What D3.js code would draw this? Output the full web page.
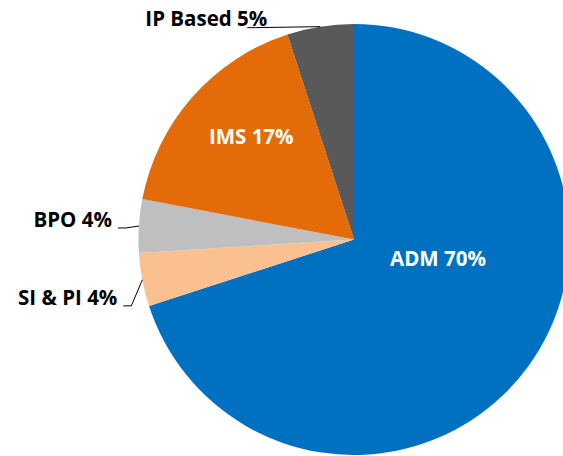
<!DOCTYPE html>
<html>
<head>
<meta charset="utf-8">
<script src="https://cdn.jsdelivr.net/npm/d3@7"></script>
<style>
  body { margin: 0; background: #fff; }
  svg { display: block; font-family: "Open Sans", "DejaVu Sans", sans-serif; }
</style>
</head>
<body>
<div id="chart"></div>
<script>
const categories = ['ADM', 'SI & PI', 'BPO', 'IMS', 'IP Based'];
const shares = [70, 4, 4, 17, 5];
const colors = ['#0070C0', '#FAC090', '#BFBFBF', '#E36C09', '#595959'];

const width = 563;
const height = 456;
const cx = 354;
const cy = 239.5;
const radius = 215.5;

const data = categories.map((name, i) => ({ name, value: shares[i], color: colors[i] }));

const pie = d3.pie()
  .value(d => d.value)
  .sort(null);

const arc = d3.arc()
  .innerRadius(0)
  .outerRadius(radius);

// label placement, tweaked by eye against the original
const labelStyle = {
  'ADM': { inside: true, r: 0, dx: 84, dy: 26 },
  'IMS': { inside: true, r: 145, dx: 6, dy: 0 },
  'IP Based': { inside: false, elbow: [-65, 1], text: [-53, -1] },
  'BPO': { inside: false, elbow: [-13, 2], text: [-27, 1] },
  'SI & PI': { inside: false, elbow: [-11, 26], text: [-25, 25] }
};

const svg = d3.select('#chart').append('svg')
  .attr('width', width)
  .attr('height', height);

const g = svg.append('g')
  .attr('transform', `translate(${cx}, ${cy})`);

const arcs = pie(data);

g.selectAll('path.slice')
  .data(arcs)
  .enter().append('path')
  .attr('class', 'slice')
  .attr('d', arc)
  .attr('fill', d => d.data.color);

arcs.forEach(d => {
  const s = labelStyle[d.data.name];
  const mid = (d.startAngle + d.endAngle) / 2;
  const label = `${d.data.name} ${d.data.value}%`;

  if (s.inside) {
    const x = s.r * Math.sin(mid) + s.dx;
    const y = -s.r * Math.cos(mid) + s.dy;
    g.append('text')
      .attr('x', x)
      .attr('y', y)
      .attr('text-anchor', 'middle')
      .attr('fill', '#fff')
      .attr('font-weight', 700)
      .attr('font-size', '20.5px')
      .text(label);
  } else {
    const ex = radius * Math.sin(mid);
    const ey = -radius * Math.cos(mid);
    const p1 = [ex + s.elbow[0], ey + s.elbow[1]];
    const p2 = [p1[0] - 8, p1[1]];
    g.append('path')
      .attr('d', d3.line()([[ex, ey], p1, p2]))
      .attr('fill', 'none')
      .attr('stroke', '#000')
      .attr('stroke-width', 1);
    g.append('text')
      .attr('x', ex + s.text[0])
      .attr('y', ey + s.text[1])
      .attr('text-anchor', 'end')
      .attr('fill', '#000')
      .attr('font-weight', 700)
      .attr('font-size', '20.5px')
      .text(label);
  }
});
</script>
</body>
</html>
